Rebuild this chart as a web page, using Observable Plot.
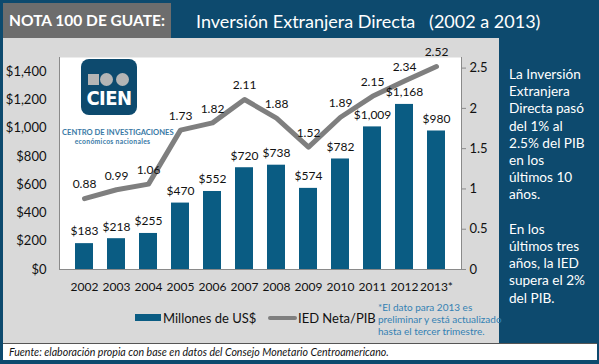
<!DOCTYPE html>
<html><head><meta charset="utf-8">
<script src="https://cdn.jsdelivr.net/npm/d3@7"></script>
<script src="https://cdn.jsdelivr.net/npm/@observablehq/plot@0.6"></script>
<style>
body{margin:0;background:#0d4a6e;}
#root{position:relative;width:599px;height:364px;background:#0d4a6e;overflow:hidden;font-family:Lato,"Open Sans",sans-serif;}
.abs{position:absolute;}
#tag{left:3px;top:3px;width:168px;height:35px;background:#6d6d6d;color:#fff;font-size:15.5px;font-weight:bold;line-height:35px;text-align:center;}
#title{left:196px;top:8px;color:#fff;font-size:18px;white-space:pre;line-height:26px;}
#panel{left:3px;top:38px;width:496px;height:305px;background:#d9d9d9;}
#chart{left:3px;top:38px;}
#foot{left:3px;top:343px;width:594px;height:17px;background:#fff;border-top:1px solid #555;box-sizing:border-box;font-size:10.6px;font-style:italic;color:#111;line-height:16px;padding-left:6px;}
#side{left:509px;top:66px;width:88px;color:#fff;font-size:13.6px;line-height:17.2px;}
#legend{left:135px;top:311px;font-size:13px;color:#111;}
.sw1{position:absolute;left:0;top:3px;width:26px;height:7px;background:#0a5c83;}
.t1{position:absolute;left:28px;top:-1px;white-space:nowrap;}
.sw2{position:absolute;left:133px;top:5px;width:29px;height:4px;background:#7f7f7f;border-radius:2px;}
.t2{position:absolute;left:163px;top:-1px;white-space:nowrap;}
#note{left:378px;top:301px;color:#3481b3;font-size:10px;line-height:12px;white-space:nowrap;}
#logo{left:81px;top:59px;width:56px;height:56px;background:#0d4a6e;border-radius:8px;}
#logo .sq{position:absolute;left:7px;top:15px;width:11px;height:11px;background:#b5b5b5;}
#logo .c1{position:absolute;left:19px;top:14px;width:13px;height:13px;border-radius:50%;background:#b5b5b5;}
#logo .c2{position:absolute;left:35px;top:14px;width:13px;height:13px;border-radius:50%;background:#b5b5b5;}
#logo .w{position:absolute;left:0;width:56px;top:27px;text-align:center;color:#fff;font-weight:900;font-size:20px;letter-spacing:-0.5px;font-family:"DejaVu Sans Condensed","Liberation Sans Narrow",sans-serif;}
#lt1{left:62px;top:127px;width:101px;text-align:center;color:#3a7aa6;font-size:7.6px;font-weight:bold;white-space:nowrap;}
#lt2{left:62px;top:137px;width:101px;text-align:center;color:#3a7aa6;font-size:6.8px;font-weight:bold;white-space:nowrap;letter-spacing:0.3px;}
</style></head>
<body>
<div id="root">
  <div class="abs" id="tag">NOTA 100 DE GUATE:</div>
  <div class="abs" id="title">Inversión Extranjera Directa   (2002 a 2013)</div>
  <div class="abs" id="panel"></div>
  <div class="abs" id="chart"></div>
  <div class="abs" id="logo"><div class="sq"></div><div class="c1"></div><div class="c2"></div><div class="w">CIEN</div></div>
  <div class="abs" id="lt1">CENTRO DE INVESTIGACIONES</div>
  <div class="abs" id="lt2">económicos nacionales</div>
  <div class="abs" id="legend"><div class="sw1"></div><div class="t1">Millones de US$</div><div class="sw2"></div><div class="t2">IED Neta/PIB</div></div>
  <div class="abs" id="note">*El dato para 2013 es<br>preliminar y está actualizado<br>hasta el tercer trimestre.</div>
  <div class="abs" id="foot">Fuente: elaboración propia con base en datos del Consejo Monetario Centroamericano.</div>
  <div class="abs" id="side">La Inversión<br>Extranjera<br>Directa pasó<br>del 1% al<br>2.5% del PIB<br>en los<br>últimos 10<br>años.<br><br>En los<br>últimos tres<br>años, la IED<br>supera el 2%<br>del PIB.</div>
</div>
<script>
const years = ["2002","2003","2004","2005","2006","2007","2008","2009","2010","2011","2012","2013*"];
const millones = [183, 218, 255, 470, 552, 720, 738, 574, 782, 1009, 1168, 980];
const iedPib = [0.88, 0.99, 1.06, 1.73, 1.82, 2.11, 1.88, 1.52, 1.89, 2.15, 2.34, 2.52];
const leftTicks = [0, 200, 400, 600, 800, 1000, 1200, 1400];
const rightTicks = [0, 0.5, 1, 1.5, 2, 2.5];

const K = 570; // right-axis unit expressed in left-axis units
const data = years.map((y, i) => ({year: y, m: millones[i], r: iedPib[i]}));
const money = d => "$" + d3.format(",")(d);

const chart = Plot.plot({
  width: 496, height: 262,
  marginLeft: 56, marginRight: 38, marginTop: 19, marginBottom: 31,
  x: {domain: years, padding: 0.44},
  y: {domain: [0, 1500]},
  style: {background: "transparent", fontFamily: "Lato, sans-serif", fontSize: "13px", color: "#111", overflow: "visible"},
  marks: [
    Plot.frame({fill: "white", stroke: null}),
    Plot.barY(data, {x: "year", y: "m", fill: "#0a5c83"}),
    Plot.line(data, {x: "year", y: d => d.r * K, stroke: "#7f7f7f", strokeWidth: 5}),
    Plot.text(data, {x: "year", y: "m", text: d => money(d.m), dy: -12, fontSize: 12, fill: "#111"}),
    Plot.text(data, {x: "year", y: d => d.r * K, text: d => d.r.toFixed(2), dy: -14, fontSize: 12, fill: "#111"}),
    Plot.frame({anchor: "left", stroke: "#8a8a8a"}),
    Plot.frame({anchor: "right", stroke: "#8a8a8a"}),
    Plot.ruleY([0], {stroke: "#8a8a8a"}),
    Plot.axisY(leftTicks, {tickSize: 0, tickPadding: 13, tickFormat: money, fontSize: 13, label: null}),
    Plot.axisY(rightTicks.map(v => v * K), {anchor: "right", tickSize: 4, tickPadding: 4, stroke: "#8a8a8a", tickFormat: d => String(+(d / K).toFixed(2)), fontSize: 13, label: null}),
    Plot.axisX({tickSize: 0, tickPadding: 13, fontSize: 12, label: null})
  ]
});
document.getElementById("chart").appendChild(chart);
</script>
</body></html>
